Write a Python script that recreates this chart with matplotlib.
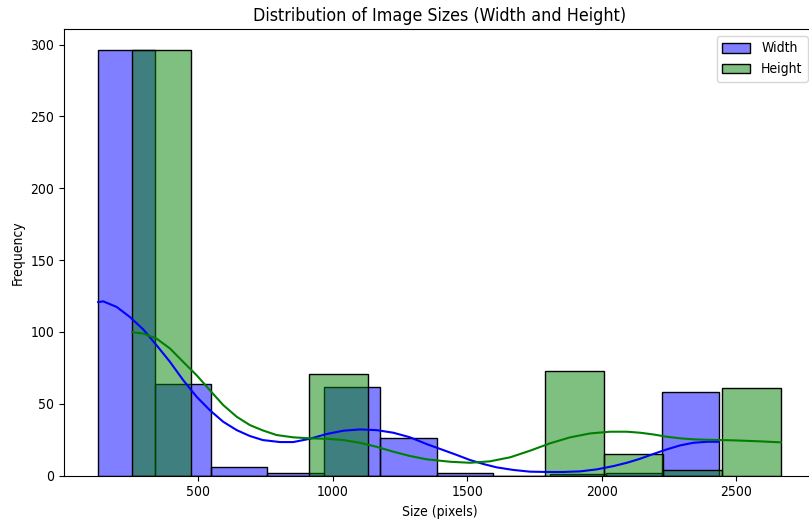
import matplotlib
matplotlib.use("Agg")
import matplotlib.pyplot as plt
import seaborn as sns
import numpy as np

# Histogrammes (11 classes chacun)
width_edges = [128, 338, 548, 757, 967, 1177, 1386, 1596, 1806, 2016, 2225, 2435]
width_counts = [296, 64, 6, 2, 62, 26, 2, 0, 1, 2, 58]

height_edges = [255, 474, 693, 912, 1131, 1350, 1569, 1788, 2008, 2227, 2446, 2665]
height_counts = [296, 0, 0, 71, 0, 0, 0, 73, 15, 4, 61]

# Courbes KDE relevées point par point
kde_width_x = [128, 147, 197, 246, 296, 345, 395, 444, 494, 543, 593, 643, 692, 740,
               804, 853, 915, 977, 1039, 1101, 1163, 1225, 1287, 1349, 1411, 1461,
               1510, 1560, 1609, 1671, 1733, 1795, 1857, 1919, 1981, 2043, 2093,
               2142, 2191, 2241, 2291, 2340, 2390, 2435]
kde_width_y = [120.8, 121.3, 117.4, 110.4, 101.7, 90.8, 79.2, 66.5, 54.9, 45.6, 37.5,
               31.7, 27.6, 24.8, 23.4, 23.4, 25.7, 29.0, 31.3, 32.2, 31.7, 29.9, 26.7,
               22.0, 17.8, 14.4, 10.9, 8.1, 5.8, 4.0, 2.8, 2.6, 2.6, 3.0, 4.4, 6.7,
               9.0, 11.8, 15.1, 18.3, 21.1, 22.9, 23.6, 23.6]

kde_height_x = [255, 296, 345, 395, 444, 494, 543, 593, 643, 692, 740, 791, 853, 915,
                977, 1039, 1101, 1163, 1225, 1287, 1349, 1436, 1510, 1584, 1659, 1733,
                1807, 1882, 1956, 2030, 2093, 2142, 2191, 2241, 2291, 2340, 2390,
                2489, 2588, 2665]
kde_height_y = [99.8, 98.9, 95.4, 88.5, 79.2, 69.9, 59.5, 49.1, 41.0, 35.2, 31.5, 28.3,
                26.7, 26.0, 25.7, 24.8, 22.9, 20.1, 16.7, 13.7, 11.4, 9.7, 9.0, 10.0,
                12.8, 17.4, 22.5, 26.7, 29.4, 30.6, 30.6, 29.9, 28.7, 27.1, 26.0, 25.3,
                25.0, 24.6, 23.9, 23.2]

plt.rcParams['font.family'] = ['DejaVu Sans']
plt.rcParams['font.stretch'] = 'condensed'

fig = plt.figure(figsize=(8.09, 5.20), dpi=100)
ax = fig.add_axes([64 / 809, 44.3 / 520, 751 / 809, 446.7 / 520])

# Barres : centres des classes pondérés par les effectifs
width_centers = [(a + b) / 2 for a, b in zip(width_edges[:-1], width_edges[1:])]
height_centers = [(a + b) / 2 for a, b in zip(height_edges[:-1], height_edges[1:])]

sns.histplot(x=width_centers, weights=width_counts, bins=width_edges,
             color='blue', alpha=0.5, label='Width', ax=ax)
sns.histplot(x=height_centers, weights=height_counts, bins=height_edges,
             color='green', alpha=0.5, label='Height', ax=ax)

ax.plot(kde_width_x, kde_width_y, color='blue', lw=1.5)
ax.plot(kde_height_x, kde_height_y, color='green', lw=1.5)

ax.set_title('Distribution of Image Sizes (Width and Height)', fontsize=12.8)
ax.set_xlabel('Size (pixels)')
ax.set_ylabel('Frequency')
ax.legend(loc='upper right')

fig.savefig('out.png', dpi=100)
